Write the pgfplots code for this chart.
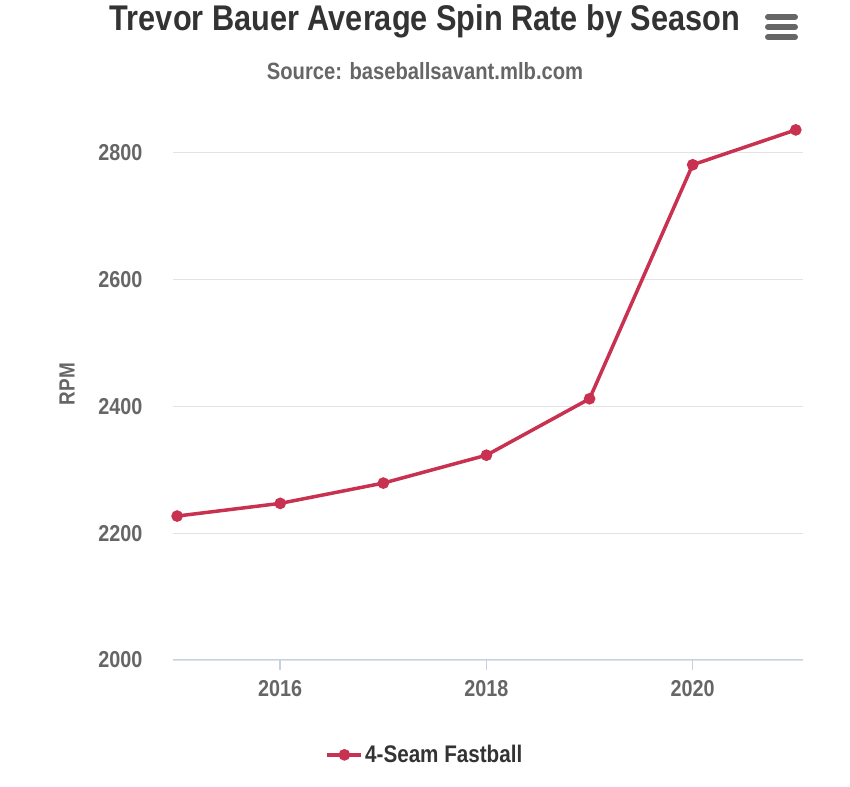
\documentclass[border=0pt]{standalone}
\usepackage{fontspec}
\setmainfont{Liberation Sans}[FakeStretch=0.86]
\usepackage{pgfplots}
\pgfplotsset{compat=1.18}
\definecolor{spin}{HTML}{C8314F}
\definecolor{txt}{HTML}{333333}
\definecolor{lbl}{HTML}{666666}
\definecolor{gridc}{HTML}{E3E3E3}
\definecolor{axc}{HTML}{C5D0E3}

\begin{document}
\begin{tikzpicture}[x=1pt,y=1pt]
\useasboundingbox (0,0) rectangle (850,786);
% title, subtitle, menu icon
\node[txt,font=\fontsize{35.7}{40}\selectfont\bfseries] at (425,765) {Trevor Bauer Average Spin Rate by Season};
\node[lbl,font=\fontsize{23.5}{26}\selectfont\bfseries] at (425,715) {Source: baseballsavant.mlb.com};
\foreach \yy in {769,759,749}
  \draw[lbl,line width=6pt,line cap=round] (768,\yy) -- (795,\yy);
\node[lbl,rotate=90,font=\fontsize{22}{24}\selectfont\bfseries] at (67,402) {RPM};
\begin{axis}[
  at={(173pt,126pt)},anchor=south west,
  scale only axis,width=630pt,height=558pt,
  xmin=2014.96,xmax=2021.07,ymin=2000,ymax=2880,
  xtick={2016,2018,2020},ytick={2000,2200,...,2800},
  /pgf/number format/assume math mode=true,
  /pgf/number format/1000 sep={},
  axis line style={draw=none},
  tick pos=left,tick align=outside,major tick length=10pt,
  xtick style={draw=axc,line width=1.5pt},ytick style={draw=none},
  ymajorgrids=true,grid style={draw=gridc,line width=1.2pt},
  tick label style={text=lbl,font=\fontsize{23}{26}\selectfont\bfseries},
  xticklabel style={yshift=-7pt},
  yticklabel style={xshift=-17pt},
  legend style={at={(0.4,-0.170)},anchor=center,draw=none,fill=none,
    font=\fontsize{24}{28}\selectfont\bfseries,text=txt},
  legend image code/.code={
    \draw[#1,mark repeat=2,mark phase=2] plot coordinates {(0pt,0pt) (17pt,0pt) (34pt,0pt)};},
]
\draw[axc,line width=2pt] (rel axis cs:0,0) -- (rel axis cs:1,0);
\addplot[spin,line width=3.5pt,mark=*,mark size=4pt] coordinates {
  (2015,2227) (2016,2247) (2017,2279) (2018,2323) (2019,2412) (2020,2781) (2021,2836)
};
\legend{4-Seam Fastball}
\end{axis}
\end{tikzpicture}
\end{document}
